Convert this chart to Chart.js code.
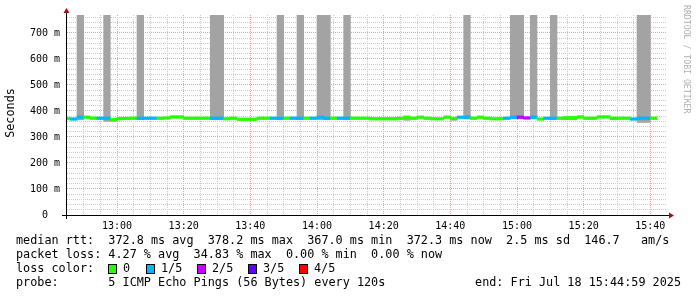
<!DOCTYPE html>
<html>
<head>
<meta charset="utf-8">
<script src="https://cdn.jsdelivr.net/npm/chart.js@4.4.1/dist/chart.umd.min.js"></script>
<style>
  html, body { margin: 0; padding: 0; background: #fff; }
  canvas { display: block; }
</style>
</head>
<body>
<canvas id="grafico" width="697" height="297"></canvas>
<script>
// centre of each 2 minute probe step
const stepTimes = [
  '12:45','12:47','12:49','12:51','12:53','12:55','12:57','12:59','13:01','13:03',
  '13:05','13:07','13:09','13:11','13:13','13:15','13:17','13:19','13:21','13:23',
  '13:25','13:27','13:29','13:31','13:33','13:35','13:37','13:39','13:41','13:43',
  '13:45','13:47','13:49','13:51','13:53','13:55','13:57','13:59','14:01','14:03',
  '14:05','14:07','14:09','14:11','14:13','14:15','14:17','14:19','14:21','14:23',
  '14:25','14:27','14:29','14:31','14:33','14:35','14:37','14:39','14:41','14:43',
  '14:45','14:47','14:49','14:51','14:53','14:55','14:57','14:59','15:01','15:03',
  '15:05','15:07','15:09','15:11','15:13','15:15','15:17','15:19','15:21','15:23',
  '15:25','15:27','15:29','15:31','15:33','15:35','15:37','15:39','15:41'
];
// median rtt in ms
const medianRtt = [
  371, 369, 376, 376, 372, 372, 372, 367, 371, 371,
  372, 372, 372, 372, 372, 373, 377, 377, 372, 372,
  372, 372, 372, 372, 370, 372, 368, 368, 368, 372,
  372, 372, 372, 372, 372, 372, 372, 372, 376, 372,
  372, 372, 372, 372, 372, 372, 370, 370, 370, 370,
  372, 376, 372, 376, 372, 370, 370, 376, 371, 376,
  376, 372, 376, 372, 370, 370, 372, 376, 376, 373,
  376, 369, 372, 372, 372, 374, 374, 377, 372, 372,
  377, 377, 372, 372, 372, 369, 372, 372, 372
];
// lost pings out of 5
const lossCount = [
  0, 1, 1, 0, 0, 1, 1, 0, 0, 0,
  0, 1, 1, 1, 0, 0, 0, 0, 0, 0,
  0, 0, 1, 1, 0, 0, 0, 0, 0, 0,
  0, 1, 1, 0, 1, 1, 0, 1, 1, 1,
  0, 1, 1, 0, 0, 0, 0, 0, 0, 0,
  0, 0, 0, 0, 0, 0, 0, 0, 0, 1,
  1, 0, 0, 0, 0, 0, 1, 1, 2, 2,
  1, 0, 1, 1, 0, 0, 0, 0, 0, 0,
  0, 0, 0, 0, 0, 1, 1, 1, 0
];
// smoke (spread of the pings)
const smokeTimes = ['12:49','12:57','12:59','13:07','13:29','13:31','13:49','13:55','14:01','14:03','14:09',
  '14:27','14:41','14:45','14:59','15:01','15:05','15:11','15:15','15:17','15:29','15:37','15:39'];
const smokeLow  = [366, 360, 360, 366, 366, 366, 366, 366, 366, 366, 366,
  364, 364, 370, 370, 370, 370, 366, 366, 366, 366, 356, 356];
const smokeHigh = [769, 769, 370, 769, 769, 769, 769, 769, 769, 769, 769,
  374, 372, 769, 769, 769, 769, 769, 372, 372, 372, 769, 769];

const yTickLabels = ['0  ', '100 m', '200 m', '300 m', '400 m', '500 m', '600 m', '700 m'];
const xTickLabels = ['13:00', '13:20', '13:40', '14:00', '14:20', '14:40', '15:00', '15:20', '15:40'];

const lossColors = ['#26ff00', '#00b8ff', '#c800ff', '#6000ff', '#ff0000'];
const lossLabels = ['0', '1/5', '2/5', '3/5', '4/5'];

const legendLines = [
  'median rtt:  372.8 ms avg  378.2 ms max  367.0 ms min  372.3 ms now  2.5 ms sd  146.7   am/s',
  'packet loss: 4.27 % avg  34.83 % max  0.00 % min  0.00 % now',
  'loss color:',
  'probe:       5 ICMP Echo Pings (56 Bytes) every 120s'
];
const endText = 'end: Fri Jul 18 15:44:59 2025';

const MONO = "'DejaVu Sans Mono', monospace";
const halfBand = 5;

// minutes from 12:45 (left edge of graph)
function toMin(t) {
  const [h, m] = t.split(':').map(Number);
  return h * 60 + m - (12 * 60 + 45);
}

const medianData = stepTimes.map((t, i) => ({ x: toMin(t), y: [medianRtt[i] - halfBand, medianRtt[i] + halfBand] }));
const smokeData = smokeTimes.map((t, i) => ({ x: toMin(t), y: [smokeLow[i], smokeHigh[i]] }));

const rrdExtras = {
  id: 'rrdExtras',
  afterDraw(chart) {
    const c = chart.ctx;
    const a = chart.chartArea;
    c.save();
    // axes
    c.strokeStyle = '#000';
    c.lineWidth = 1;
    c.beginPath();
    c.moveTo(62, a.bottom + 0.5);
    c.lineTo(a.right + 2, a.bottom + 0.5);
    c.moveTo(a.left - 0.5, a.bottom + 4);
    c.lineTo(a.left - 0.5, a.top - 2);
    c.stroke();
    // arrows
    c.fillStyle = '#a01010';
    c.beginPath();
    c.moveTo(a.left - 3.5, a.top - 2);
    c.lineTo(a.left - 0.5, a.top - 7);
    c.lineTo(a.left + 2.5, a.top - 2);
    c.closePath();
    c.fill();
    c.beginPath();
    c.moveTo(a.right + 2, a.bottom - 2.5);
    c.lineTo(a.right + 7, a.bottom + 0.5);
    c.lineTo(a.right + 2, a.bottom + 3.5);
    c.closePath();
    c.fill();

    // unit label
    c.fillStyle = '#000';
    c.font = '11.8px ' + MONO;
    c.textAlign = 'center';
    c.textBaseline = 'middle';
    c.save();
    c.translate(11, 113);
    c.rotate(-Math.PI / 2);
    c.fillText('Seconds', 0, 0);
    c.restore();

    // watermark
    c.save();
    c.fillStyle = '#b0b0b0';
    c.font = '8.2px ' + MONO;
    c.textAlign = 'left';
    c.translate(686.5, 5);
    c.rotate(Math.PI / 2);
    c.fillText('RRDTOOL / TOBI OETIKER', 0, 0);
    c.restore();

    // legend
    c.textAlign = 'left';
    c.font = '11.8px ' + MONO;
    const ys = [241, 255, 269, 283];
    legendLines.forEach((txt, i) => c.fillText(txt, 16, ys[i]));
    c.textAlign = 'right';
    c.fillText(endText, 681, ys[3]);
    c.textAlign = 'left';
    const boxX = [108, 146, 197, 248, 299];
    lossLabels.forEach((lab, i) => {
      c.fillStyle = lossColors[i];
      c.fillRect(boxX[i], ys[2] - 5, 9, 10);
      c.strokeStyle = '#000';
      c.strokeRect(boxX[i] + 0.5, ys[2] - 4.5, 8, 9);
      c.fillStyle = '#000';
      c.fillText(lab, boxX[i] + 15, ys[2]);
    });
    c.restore();
  }
};

function gridColor(c, period, offset, edge) {
  if (!c || !c.tick) return 'rgba(0,0,0,0)';
  const v = c.tick.value;
  if (v === 0 || v === edge) return 'rgba(0,0,0,0)';
  return (v - offset) % period === 0 ? '#e8a0a0' : '#cccccc';
}

new Chart(document.getElementById('grafico'), {
  type: 'bar',
  data: {
    datasets: [
      {
        label: 'median',
        data: medianData,
        order: 0,
        grouped: false,
        barPercentage: 1,
        categoryPercentage: 1,
        borderWidth: 0,
        backgroundColor: ctx => lossColors[lossCount[ctx.dataIndex]] || lossColors[0]
      },
      {
        label: 'smoke',
        data: smokeData,
        order: 1,
        grouped: false,
        barPercentage: 1,
        categoryPercentage: 1,
        borderWidth: 0,
        backgroundColor: '#a3a3a3'
      }
    ]
  },
  options: {
    responsive: false,
    animation: false,
    devicePixelRatio: 1,
    layout: { padding: { left: 0, top: 15, right: 30, bottom: 0 } },
    plugins: { legend: { display: false }, tooltip: { enabled: false } },
    scales: {
      x: {
        type: 'linear',
        min: 0,
        max: 180,
        offset: false,
        afterBuildTicks: s => {
          s.ticks = [];
          for (let v = 0; v <= 180; v += 5) s.ticks.push({ value: v });
        },
        afterFit: s => { s.height = 82; },
        grid: {
          offset: false,
          drawTicks: false,
          lineWidth: 1,
          color: c => gridColor(c, 20, 15, 180)
        },
        border: { display: false, dash: [1, 1] },
        ticks: {
          autoSkip: false,
          maxRotation: 0,
          padding: 5,
          color: '#000',
          font: { family: MONO, size: 10 },
          callback: v => ((v - 15) % 20 === 0 ? xTickLabels[(v - 15) / 20] : '')
        }
      },
      y: {
        min: 0,
        max: 769,
        afterBuildTicks: s => {
          s.ticks = [];
          for (let v = 0; v <= 760; v += 20) s.ticks.push({ value: v });
        },
        afterFit: s => { s.width = 67; },
        grid: {
          drawTicks: false,
          lineWidth: 1,
          color: c => gridColor(c, 100, 0, -1)
        },
        border: { display: false, dash: [1, 1] },
        ticks: {
          autoSkip: false,
          padding: 7,
          color: '#000',
          font: { family: MONO, size: 10 },
          callback: v => (v % 100 === 0 ? yTickLabels[v / 100] : '')
        }
      }
    }
  },
  plugins: [rrdExtras]
});
</script>
</body>
</html>
